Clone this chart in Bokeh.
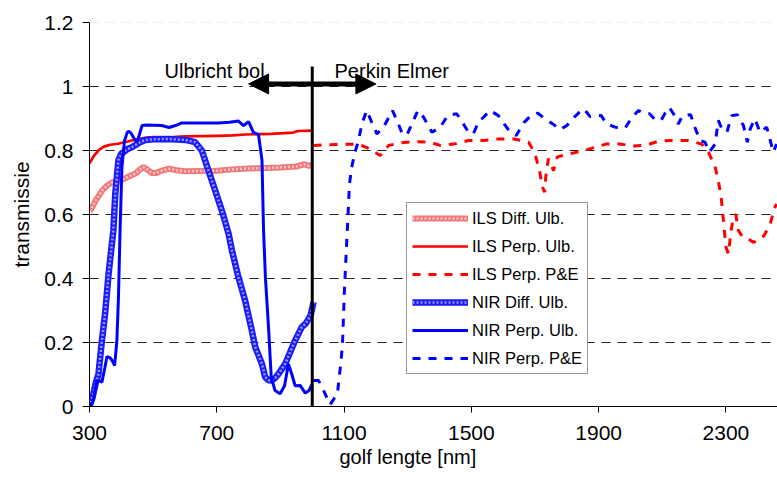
from bokeh.plotting import figure
from bokeh.models import (Range1d, FixedTicker, Legend, LegendItem, Arrow, NormalHead,
                          Label, Span, CustomJSTickFormatter, LinearAxis, Title)
from bokeh.embed import file_html
from bokeh.resources import INLINE

# ---------------- data ----------------
x_ticks = [300, 700, 1100, 1500, 1900, 2300]
y_ticks = [0, 0.2, 0.4, 0.6, 0.8, 1.0, 1.2]
separator_nm = 1000

ils_diff_x = [300, 310, 320, 330, 340, 355, 370, 390, 410, 430, 445, 460, 470, 480, 495, 510,
              530, 550, 575, 600, 650, 700, 750, 800, 850, 900, 950, 975, 990, 1000]
ils_diff_y = [0.61, 0.625, 0.645, 0.66, 0.675, 0.69, 0.70, 0.706, 0.712, 0.722, 0.728, 0.742,
              0.748, 0.742, 0.73, 0.73, 0.738, 0.743, 0.738, 0.735, 0.736, 0.737, 0.741, 0.744,
              0.745, 0.747, 0.75, 0.757, 0.752, 0.755]

ils_perp_x = [300, 315, 330, 345, 365, 390, 420, 450, 480, 500, 550, 600, 650, 700, 750, 790,
              830, 870, 910, 940, 955, 1000]
ils_perp_y = [0.76, 0.785, 0.802, 0.812, 0.818, 0.821, 0.828, 0.835, 0.84, 0.842, 0.841, 0.844,
              0.845, 0.846, 0.847, 0.85, 0.851, 0.852, 0.854, 0.856, 0.861, 0.862]

ils_pe_x = [1004, 1050, 1093, 1145, 1182, 1213, 1240, 1281, 1318, 1370, 1402, 1444, 1491, 1538,
            1585, 1634, 1680, 1700, 1714, 1724, 1730, 1734, 1742, 1750, 1758, 1770, 1810, 1847,
            1889, 1923, 1967, 2009, 2051, 2091, 2135, 2182, 2224, 2245, 2266, 2276, 2285, 2290,
            2295, 2300, 2308, 2315, 2323, 2331, 2339, 2353, 2370, 2386, 2400, 2420, 2441, 2451,
            2459]
ils_pe_y = [0.816, 0.818, 0.819, 0.82, 0.805, 0.784, 0.816, 0.824, 0.828, 0.826, 0.816, 0.82,
            0.831, 0.831, 0.836, 0.836, 0.826, 0.79, 0.737, 0.685, 0.67, 0.72, 0.774, 0.76,
            0.737, 0.78, 0.79, 0.798, 0.81, 0.82, 0.82, 0.814, 0.817, 0.83, 0.831, 0.831, 0.82,
            0.795, 0.748, 0.706, 0.654, 0.602, 0.55, 0.498, 0.477, 0.54, 0.592, 0.60, 0.55,
            0.529, 0.524, 0.513, 0.518, 0.534, 0.576, 0.617, 0.633]

nir_diff_x = [300, 310, 320, 328, 339, 349, 360, 368, 375, 381, 391, 400, 407, 420, 433, 459,
              475, 500, 548, 601, 632, 653, 674, 695, 716, 737, 747, 768, 789, 810, 821, 842,
              852, 863, 873, 884, 894, 915, 946, 967, 980, 995, 1004]
nir_diff_y = [0.0, 0.03, 0.075, 0.10, 0.206, 0.29, 0.415, 0.487, 0.55, 0.665, 0.77, 0.79, 0.795,
              0.805, 0.81, 0.826, 0.833, 0.835, 0.836, 0.833, 0.826, 0.80, 0.737, 0.675, 0.612,
              0.54, 0.49, 0.404, 0.331, 0.238, 0.185, 0.133, 0.092, 0.082, 0.081, 0.09, 0.102,
              0.133, 0.206, 0.248, 0.26, 0.285, 0.326]

nir_perp_x = [300, 312, 323, 331, 339, 348, 355, 365, 373, 379, 386, 391, 396, 402, 410, 418,
              423, 430, 440, 449, 457, 465, 480, 527, 550, 570, 590, 650, 705, 740, 768, 784,
              800, 815, 831, 842, 847, 853, 863, 871, 883, 899, 913, 925, 936, 946, 962, 978,
              990, 999]
nir_perp_y = [0.0, 0.02, 0.081, 0.08, 0.076, 0.12, 0.156, 0.152, 0.14, 0.128, 0.206, 0.34, 0.55,
              0.75, 0.83, 0.855, 0.86, 0.855, 0.838, 0.826, 0.85, 0.878, 0.88, 0.878, 0.872,
              0.878, 0.886, 0.886, 0.886, 0.888, 0.892, 0.878, 0.89, 0.857, 0.85, 0.77, 0.55,
              0.40, 0.24, 0.092, 0.05, 0.04, 0.065, 0.133, 0.10, 0.065, 0.066, 0.042, 0.05, 0.07]

nir_pe_x = [1004, 1020, 1038, 1056, 1079, 1090, 1095, 1101, 1106, 1112, 1117, 1124, 1133, 1145,
            1156, 1171, 1187, 1203, 1224, 1252, 1266, 1281, 1297, 1313, 1332, 1350, 1376, 1402,
            1426, 1454, 1475, 1491, 1506, 1522, 1543, 1559, 1585, 1603, 1622, 1641, 1653, 1666,
            1687, 1708, 1732, 1756, 1779, 1800, 1818, 1840, 1854, 1873, 1894, 1908, 1925, 1952,
            1983, 2004, 2025, 2041, 2060, 2075, 2096, 2109, 2122, 2135, 2150, 2164, 2189, 2200,
            2219, 2234, 2248, 2266, 2276, 2287, 2303, 2318, 2336, 2355, 2367, 2376, 2391, 2407,
            2428, 2438, 2449, 2459]
nir_pe_y = [0.081, 0.081, 0.045, 0.006, 0.04, 0.138, 0.196, 0.36, 0.467, 0.59, 0.696, 0.748,
            0.79, 0.83, 0.883, 0.925, 0.888, 0.852, 0.873, 0.925, 0.894, 0.857, 0.847, 0.883,
            0.925, 0.904, 0.857, 0.873, 0.909, 0.915, 0.883, 0.857, 0.852, 0.888, 0.909, 0.925,
            0.909, 0.883, 0.857, 0.847, 0.867, 0.888, 0.909, 0.917, 0.899, 0.883, 0.865, 0.878,
            0.899, 0.92, 0.93, 0.906, 0.909, 0.909, 0.883, 0.873, 0.87, 0.902, 0.925, 0.917,
            0.915, 0.899, 0.894, 0.917, 0.935, 0.915, 0.883, 0.909, 0.912, 0.878, 0.831, 0.826,
            0.795, 0.82, 0.894, 0.868, 0.857, 0.909, 0.912, 0.878, 0.826, 0.867, 0.899, 0.857,
            0.873, 0.836, 0.795, 0.82]

labels = ["ILS Diff. Ulb.", "ILS Perp. Ulb.", "ILS Perp. P&E",
          "NIR Diff. Ulb.", "NIR Perp. Ulb.", "NIR Perp. P&E"]

# ---------------- figure ----------------
FONT = "Liberation Sans"
RED = "#ff0000"
BLUE = "#0000ff"

p = figure(width=777, height=477, x_range=Range1d(300, 2462), y_range=Range1d(0, 1.2),
           output_backend="svg", toolbar_location=None,
           min_border_left=89, min_border_right=0, min_border_top=22, min_border_bottom=71)
p.outline_line_color = None
p.background_fill_color = "white"
p.border_fill_color = "white"

# axes
p.xaxis.ticker = FixedTicker(ticks=x_ticks)
p.yaxis.ticker = FixedTicker(ticks=y_ticks)
p.yaxis.formatter = CustomJSTickFormatter(code="return tick.toFixed(1).replace(/\\.0$/, '');")
for ax in (p.xaxis[0], p.yaxis[0]):
    ax.major_label_text_font = FONT
    ax.major_label_text_font_size = "21px"
    ax.major_label_text_color = "black"
    ax.axis_line_color = "black"
    ax.major_tick_line_color = "black"
    ax.minor_tick_line_color = None
    ax.major_tick_in = 0
p.xaxis.major_tick_out = 6
p.xaxis.major_label_standoff = 13
p.yaxis.major_tick_out = 7
p.yaxis.major_label_standoff = 9
p.yaxis.axis_label = "transmissie"
p.yaxis.axis_label_text_font = FONT
p.yaxis.axis_label_text_font_size = "21px"
p.yaxis.axis_label_text_font_style = "normal"
p.yaxis.axis_label_text_color = "black"
p.yaxis.axis_label_standoff = 8

# separator line continuing below the x axis: a zero-size axis with one long tick
sep_axis = LinearAxis(ticker=FixedTicker(ticks=[separator_nm]), fixed_location=0,
                      major_tick_out=32, major_tick_in=0, major_tick_line_width=3,
                      major_tick_line_color="black", minor_tick_line_color=None,
                      axis_line_color=None, major_label_text_font_size="0px",
                      major_label_text_color=None)
p.add_layout(sep_axis, "below")

# x axis title
p.add_layout(Title(text="golf lengte [nm]", align="left", offset=250, standoff=3,
                   text_font=FONT, text_font_size="20px", text_font_style="normal",
                   text_color="black"), "below")

# grid
p.xgrid.visible = False
p.ygrid.ticker = FixedTicker(ticks=[0.2, 0.4, 0.6, 0.8, 1.0])
p.ygrid.grid_line_color = "#222222"
p.ygrid.grid_line_dash = "9 7"
p.ygrid.grid_line_width = 1
p.add_layout(Span(location=1.2, dimension="width", line_color="#d8d8d8", line_dash="9 7",
                  line_width=1))

# series
r1a = p.line(ils_diff_x, ils_diff_y, line_color="#f07878", line_width=6)
r1b = p.line(ils_diff_x, ils_diff_y, line_color="#ffc8c8", line_width=2.5, line_dash="2 2")
r2 = p.line(ils_perp_x, ils_perp_y, line_color=RED, line_width=2.7)
r3 = p.line(ils_pe_x, ils_pe_y, line_color=RED, line_width=3, line_dash="8 8")
r4a = p.line(nir_diff_x, nir_diff_y, line_color="#1a1aff", line_width=6.5)
r4b = p.line(nir_diff_x, nir_diff_y, line_color="#9a9aff", line_width=2.5, line_dash="2 2")
r5 = p.line(nir_perp_x, nir_perp_y, line_color=BLUE, line_width=3)
r6 = p.line(nir_pe_x, nir_pe_y, line_color=BLUE, line_width=3, line_dash="8 8")

# vertical separator and double arrow
p.add_layout(Arrow(end=None, start=None, x_start=separator_nm, y_start=0,
                   x_end=separator_nm, y_end=1.0625, line_width=3, line_color="black"))
p.add_layout(Arrow(start=NormalHead(size=20, fill_color="black", line_color="black"),
                   end=NormalHead(size=20, fill_color="black", line_color="black"),
                   x_start=800, y_start=1.008, x_end=1200, y_end=1.008,
                   line_width=5, line_color="black"))

p.add_layout(Label(x=536, y=1.05, text="Ulbricht bol", text_font=FONT, text_font_size="20px",
                   text_color="black", text_baseline="alphabetic"))
p.add_layout(Label(x=1070, y=1.05, text="Perkin Elmer", text_font=FONT, text_font_size="20px",
                   text_color="black", text_baseline="alphabetic"))

# legend
legend = Legend(items=[
    LegendItem(label=labels[0], renderers=[r1a, r1b]),
    LegendItem(label=labels[1], renderers=[r2]),
    LegendItem(label=labels[2], renderers=[r3]),
    LegendItem(label=labels[3], renderers=[r4a, r4b]),
    LegendItem(label=labels[4], renderers=[r5]),
    LegendItem(label=labels[5], renderers=[r6]),
], location=(317, 32))
legend.label_text_font = FONT
legend.label_text_font_size = "16.5px"
legend.label_text_color = "black"
legend.glyph_width = 56
legend.glyph_height = 20
legend.label_height = 20
legend.label_standoff = 4
legend.spacing = 8
legend.padding = 5
legend.margin = 0
legend.border_line_color = "#333333"
legend.border_line_width = 1
legend.background_fill_color = "white"
legend.background_fill_alpha = 1
p.add_layout(legend)

open("out.html", "w").write(file_html(p, INLINE))
